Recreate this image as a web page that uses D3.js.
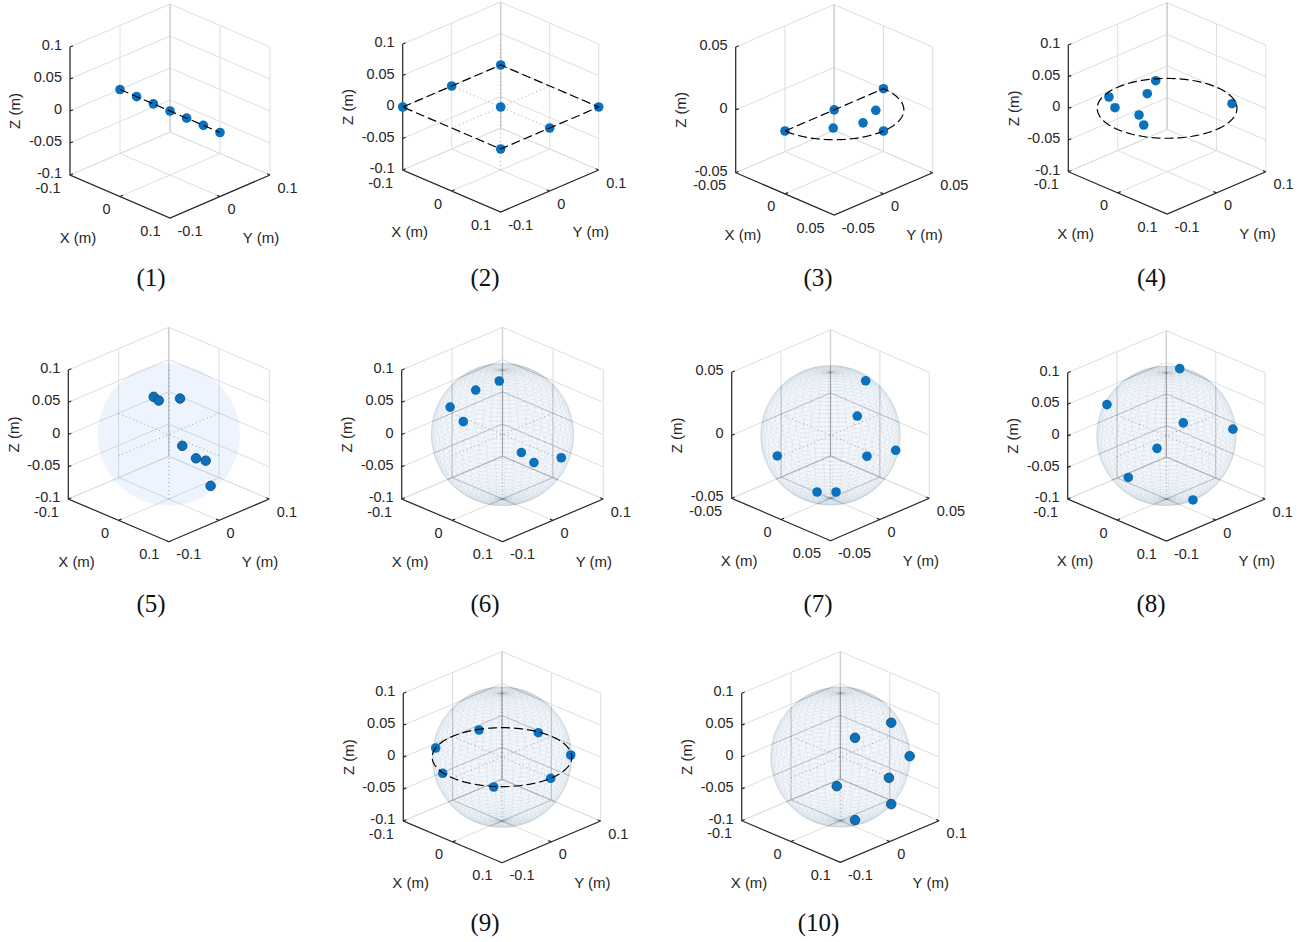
<!DOCTYPE html>
<html>
<head>
<meta charset="utf-8">
<script src="https://cdn.jsdelivr.net/npm/d3@7"></script>
<style>
    body { margin: 0; background: #fff; }
    text { font-family: "Liberation Sans", Arial, sans-serif; fill: #262626; }
    .caption { font-family: "Liberation Serif", "Times New Roman", serif; fill: #111; }
</style>
</head>
<body>
<div id="chart"></div>
<script>
// marker positions of the ten panels, in metres
var pointX = [
    [-0.1, -0.0667, -0.0333, 0, 0.0333, 0.0667, 0.1],
    [-0.1, -0.1, -0.1, 0, 0.1, 0.1, 0.1],
    [0, 0, 0, 0.05, 0.021, 0.03, 0.0216],
    [-0.0857, -0.0543, -0.0547, -0.0769, -0.0127, 0.0157, 0.0547],
    [0.0217, 0.0313, 0.0504, 0.0802, 0.0922, 0.0971, 0.0865],
    [-0.0279, -0.0014, 0.0165, 0.0079, 0.0859, 0.0946, 0.0975],
    [0.0177, 0.0375, 0.0485, 0.0455, -0.004, 0.0232, 0.0337],
    [-0.0031, -0.0561, 0.0724, 0.0827, 0.0582, 0.0169, 0.0612],
    [-0.0891, -0.0884, -0.0219, 0.0645, 0.1001, 0.0632, -0.0214],
    [0.0678, 0.0669, 0.0774, 0.1, 0.08, 0.0668, 0.0662]
];
var pointY = [
    [0, 0, 0, 0, 0, 0, 0],
    [-0.1, 0, 0.1, 0, 0.1, 0, -0.1],
    [-0.05, 0, 0.05, 0, -0.022, -0.0007, 0.0206],
    [-0.032, -0.0512, 0.0146, 0.0538, -0.0442, -0.063, 0.0767],
    [-0.0517, -0.0513, -0.028, -0.0534, -0.038, -0.0237, -0.0033],
    [-0.0761, -0.0518, -0.0229, -0.0857, -0.0485, -0.0322, 0.0191],
    [0.0179, -0.0104, -0.0116, 0.0205, -0.0498, -0.0368, -0.0281],
    [0.0301, -0.0643, -0.0382, 0.0521, -0.0772, -0.0941, -0.0074],
    [-0.0452, 0.0418, 0.0954, 0.0748, -0.0014, -0.08, -0.0988],
    [0.0352, -0.0373, 0.063, -0.0016, 0.023, -0.0742, -0.0366]
];
var pointZ = [
    [0, 0, 0, 0, 0, 0, 0],
    [0, 0, 0, 0, 0, 0, 0],
    [0, 0, 0, 0, 0, 0, 0],
    [0, 0, 0, 0, 0, 0, 0],
    [0.0827, 0.08, 0.0817, 0.0266, 0.0062, -0.0006, -0.05],
    [0.0584, 0.0856, 0.096, 0.0509, 0.0165, -0.0016, -0.0101],
    [0.0432, 0.0314, 0.0036, -0.0035, -0.001, -0.0248, -0.0242],
    [0.0954, 0.0522, 0.0573, 0.0208, 0.0252, -0.029, -0.0787],
    [0, 0, 0, 0, 0, 0, 0],
    [0.0645, 0.0642, 0.006, 0.0005, -0.0554, 0.0004, -0.0654]
];

var captions = ["(1)", "(2)", "(3)", "(4)", "(5)", "(6)", "(7)", "(8)", "(9)", "(10)"];
var axisLimit = [0.1, 0.1, 0.05, 0.1, 0.1, 0.1, 0.05, 0.1, 0.1, 0.1];
var xyTicks = { "0.1": [-0.1, 0, 0.1], "0.05": [-0.05, 0, 0.05] };
var zTicks = { "0.1": [-0.1, -0.05, 0, 0.05, 0.1], "0.05": [-0.05, 0, 0.05] };

// what else sits in each panel
var guideShape = ["line", "square", "halfcircle", "circle", null, null, null, null, "circle", null];
var sphereKind = [null, null, null, null, "fill", "mesh", "mesh", "mesh", "mesh", "mesh"];
var hasCross = [false, true, false, false, true, true, true, true, true, true];
var darkEdge = [false, false, false, false, true, false, false, false, false, true];

// left corner of the floor, then projected size of the box
var cornerX = [70, 402.7, 735.7, 1068.3, 68.3, 401.7, 731.7, 1067.7, 403.3, 741.7];
var cornerY = [175, 170, 172.7, 171.7, 499, 499, 498.3, 499, 821, 820.7];
var runX = [100, 98, 98.5, 98.8, 100.5, 100.8, 98.8, 98.7, 98.7, 98.7];
var riseY = [43, 42, 42.3, 42.3, 42.7, 42.7, 42.4, 42, 41.7, 41.7];
var heightZ = [128, 126, 125.7, 126.7, 129, 129, 126, 126.3, 127.7, 127.4];
var captionX = [151, 485, 818, 1151.5, 151, 485, 818, 1151, 485, 818.5];
var captionY = [286, 286, 286, 286, 612, 612, 612, 612, 931, 931];

var svg = d3.select("#chart")
    .append("svg")
    .attr("width", 1308)
    .attr("height", 942);

var meshSteps = 50;

captions.forEach(function(caption, i) { drawPanel(i); });

function drawPanel(i) {
    var a = axisLimit[i],
        domain = [-a, a];

    var run = d3.scaleLinear().domain(domain).range([0, runX[i]]),
        rise = d3.scaleLinear().domain(domain).range([0, riseY[i]]),
        up = d3.scaleLinear().domain(domain).range([0, -heightZ[i]]);

    function project(p) {
        return [
            cornerX[i] + run(p[0]) + run(p[1]),
            cornerY[i] + rise(p[0]) - rise(p[1]) + up(p[2])
        ];
    }
    var line = d3.line().x(function(p) { return project(p)[0]; }).y(function(p) { return project(p)[1]; });

    var g = svg.append("g").attr("class", "panel panel-" + (i + 1));
    var ticksXY = xyTicks[a], ticksZ = zTicks[a];

    // walls and floor
    var gridPath = "";
    ticksXY.forEach(function(t) {
        gridPath += line([[t, -a, -a], [t, a, -a], [t, a, a]]);
        gridPath += line([[-a, t, -a], [a, t, -a]]);
        gridPath += line([[-a, t, -a], [-a, t, a]]);
    });
    ticksZ.forEach(function(t) {
        gridPath += line([[-a, -a, t], [-a, a, t], [a, a, t]]);
    });

    g.append("path")
        .attr("d", gridPath)
        .attr("fill", "none")
        .attr("stroke", "#dedede")
        .attr("stroke-width", 1);

    // the back corner edge reads a little stronger
    g.append("path")
        .attr("d", line([[-a, a, -a], [-a, a, a]]))
        .attr("fill", "none")
        .attr("stroke", "#cfcfcf")
        .attr("stroke-width", 1.3);

    var center = project([0, 0, 0]),
        radius = runX[i] * Math.SQRT1_2;

    if (sphereKind[i]) {
        g.append("circle")
            .attr("cx", center[0])
            .attr("cy", center[1])
            .attr("r", radius)
            .attr("fill", sphereKind[i] == "fill" ? "#3f7fe8" : "#3f86d8")
            .attr("fill-opacity", sphereKind[i] == "fill" ? 0.085 : 0.06);
    }

    if (sphereKind[i] == "mesh") {
        var clipId = "sphere-clip-" + i;
        g.append("clipPath")
            .attr("id", clipId)
            .append("circle")
            .attr("cx", center[0])
            .attr("cy", center[1])
            .attr("r", radius);

        // grid shows darker behind the mesh
        g.append("path")
            .attr("d", gridPath)
            .attr("fill", "none")
            .attr("stroke", "#777")
            .attr("stroke-opacity", 0.22)
            .attr("clip-path", "url(#" + clipId + ")");

        var meshPath = "";
        d3.range(0, meshSteps + 1).forEach(function(k) {
            var lat = -Math.PI / 2 + Math.PI * k / meshSteps;
            meshPath += line(d3.range(0, meshSteps + 1).map(function(j) {
                var lon = 2 * Math.PI * j / meshSteps;
                return [a * Math.cos(lat) * Math.cos(lon), a * Math.cos(lat) * Math.sin(lon), a * Math.sin(lat)];
            }));
        });
        d3.range(0, meshSteps).forEach(function(k) {
            var lon = 2 * Math.PI * k / meshSteps;
            meshPath += line(d3.range(0, meshSteps + 1).map(function(j) {
                var lat = -Math.PI / 2 + Math.PI * j / meshSteps;
                return [a * Math.cos(lat) * Math.cos(lon), a * Math.cos(lat) * Math.sin(lon), a * Math.sin(lat)];
            }));
        });
        g.append("path")
            .attr("d", meshPath)
            .attr("fill", "none")
            .attr("stroke", "#4a5f70")
            .attr("stroke-opacity", 0.12)
            .attr("stroke-width", 0.5);
    }

    if (hasCross[i]) {
        var cross = line([[-a, 0, 0], [a, 0, 0]]) + line([[0, -a, 0], [0, a, 0]]) + line([[0, 0, -a], [0, 0, a]]);
        g.append("path")
            .attr("d", cross)
            .attr("fill", "none")
            .attr("stroke", "#888")
            .attr("stroke-width", 0.8)
            .attr("stroke-dasharray", "1 3");
    }

    // axes
    var axesPath = line([[-a, -a, a], [-a, -a, -a], [a, -a, -a], [a, a, -a]]);
    var tickLen = a * 0.06;
    ticksZ.forEach(function(t) { axesPath += line([[-a, -a, t], [-a, -a + tickLen, t]]); });
    ticksXY.forEach(function(t) {
        axesPath += line([[t, -a, -a], [t, -a + tickLen, -a]]);
        axesPath += line([[a, t, -a], [a - tickLen, t, -a]]);
    });
    g.append("path")
        .attr("d", axesPath)
        .attr("fill", "none")
        .attr("stroke", "#262626")
        .attr("stroke-width", 1.2);

    // markers
    var points = pointX[i].map(function(x, k) { return [x, pointY[i][k], pointZ[i][k]]; });
    g.selectAll("circle.marker")
        .data(points)
        .enter()
        .append("circle")
        .attr("class", "marker")
        .attr("cx", function(p) { return project(p)[0]; })
        .attr("cy", function(p) { return project(p)[1]; })
        .attr("r", 4.8)
        .attr("fill", "#0a72bd")
        .attr("stroke", darkEdge[i] ? "#17466b" : "none")
        .attr("stroke-width", darkEdge[i] ? 0.8 : 0);

    var guide = guidePath(guideShape[i], a, line);
    if (guide) {
        g.append("path")
            .attr("d", guide)
            .attr("fill", "none")
            .attr("stroke", "#000")
            .attr("stroke-width", 1.2)
            .attr("stroke-dasharray", "9 4");
    }

    // tick labels
    ticksZ.forEach(function(t) {
        var p = project([-a, -a, t]);
        g.append("text")
            .attr("x", p[0] - 8)
            .attr("y", p[1] - 2)
            .attr("dy", "0.35em")
            .attr("text-anchor", "end")
            .attr("font-size", 14.5)
            .text(t);
    });
    ticksXY.forEach(function(t) {
        var px = project([t, -a, -a]),
            py = project([a, t, -a]);
        g.append("text")
            .attr("x", px[0] - 9.5)
            .attr("y", px[1] + 12.5)
            .attr("dy", "0.35em")
            .attr("text-anchor", "end")
            .attr("font-size", 14.5)
            .text(t);
        g.append("text")
            .attr("x", py[0] + 7.5)
            .attr("y", py[1] + 12.5)
            .attr("dy", "0.35em")
            .attr("text-anchor", "start")
            .attr("font-size", 14.5)
            .text(t);
    });

    // axis labels
    var xMid = project([0, -a, -a]),
        yMid = project([a, 0, -a]),
        zMid = project([-a, -a, 0]);
    g.append("text")
        .attr("x", xMid[0] - 42)
        .attr("y", xMid[1] + 41)
        .attr("dy", "0.35em")
        .attr("text-anchor", "middle")
        .attr("font-size", 15)
        .text("X (m)");
    g.append("text")
        .attr("x", yMid[0] + 41)
        .attr("y", yMid[1] + 41)
        .attr("dy", "0.35em")
        .attr("text-anchor", "middle")
        .attr("font-size", 15)
        .text("Y (m)");
    g.append("text")
        .attr("transform", "translate(" + (zMid[0] - 55) + "," + zMid[1] + ") rotate(-90)")
        .attr("dy", "0.35em")
        .attr("text-anchor", "middle")
        .attr("font-size", 15)
        .text("Z (m)");

    g.append("text")
        .attr("class", "caption")
        .attr("x", captionX[i])
        .attr("y", captionY[i])
        .attr("text-anchor", "middle")
        .attr("font-size", 25)
        .text(captions[i]);
}

// dashed guide shapes, all in the z = 0 plane
function guidePath(shape, a, line) {
    var steps = d3.range(0, 121).map(function(k) { return k / 120; });
    if (shape == "line") return line([[-a, 0, 0], [a, 0, 0]]);
    if (shape == "square") return line([[-a, -a, 0], [-a, a, 0], [a, a, 0], [a, -a, 0], [-a, -a, 0]]);
    if (shape == "circle") {
        return line(steps.map(function(s) {
            return [a * Math.cos(2 * Math.PI * s), a * Math.sin(2 * Math.PI * s), 0];
        }));
    }
    if (shape == "halfcircle") {
        var arc = steps.map(function(s) {
            var t = Math.PI / 2 - Math.PI * s;
            return [a * Math.cos(t), a * Math.sin(t), 0];
        });
        return line([[0, -a, 0], [0, a, 0]].concat(arc));
    }
    return null;
}
</script>
</body>
</html>
